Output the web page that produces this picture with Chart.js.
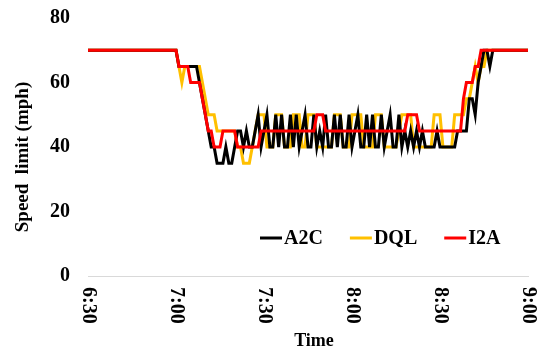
<!DOCTYPE html>
<html>
<head>
<meta charset="utf-8">
<script src="https://cdn.jsdelivr.net/npm/chart.js@4.4.1/dist/chart.umd.min.js"></script>
<style>
  html, body { margin: 0; padding: 0; background: #fff; }
  #wrap { width: 542px; height: 352px; }
</style>
</head>
<body>
<div id="wrap"><canvas id="speedChart" width="542" height="352"></canvas></div>
<script>
// one sample per minute, starting 6:30 (390 min after midnight)
const startMinute = 390;
const tickValues = [390, 420, 450, 480, 510, 540];
const tickLabels = ["6:30", "7:00", "7:30", "8:00", "8:30", "9:00"];
const yTicks = [0, 20, 40, 60, 80];

const a2c = [
  70, 70, 70, 70, 70, 70, 70, 70, 70, 70,
  70, 70, 70, 70, 70, 70, 70, 70, 70, 70,
  70, 70, 70, 70, 70, 70, 70, 70, 70, 70,
  70, 65, 65, 65, 65, 65, 65, 65, 60, 55,
  50, 45, 40, 40, 35, 35, 35, 40, 35, 35,
  40, 45, 45, 40, 45, 40, 40, 45, 50, 40,
  45, 50, 40, 40, 50, 40, 50, 40, 40, 50,
  40, 50, 40, 45, 50, 40, 40, 50, 40, 45,
  40, 50, 40, 40, 50, 40, 50, 40, 40, 50,
  40, 45, 50, 40, 40, 50, 40, 50, 40, 40,
  50, 40, 45, 50, 40, 40, 50, 40, 45, 40,
  45, 40, 45, 40, 45, 40, 40, 40, 40, 45,
  40, 40, 40, 40, 40, 40, 45, 45, 45, 45,
  55, 55, 50, 60, 65, 70, 70, 65, 70, 70,
  70, 70, 70, 70, 70, 70, 70, 70, 70, 70,
  70
];
const dql = [
  70, 70, 70, 70, 70, 70, 70, 70, 70, 70,
  70, 70, 70, 70, 70, 70, 70, 70, 70, 70,
  70, 70, 70, 70, 70, 70, 70, 70, 70, 70,
  70, 65, 60, 65, 65, 65, 65, 65, 65, 60,
  55, 50, 50, 50, 45, 45, 45, 45, 45, 45,
  45, 40, 40, 35, 35, 35, 40, 45, 50, 50,
  50, 40, 40, 40, 50, 50, 50, 40, 40, 40,
  50, 50, 50, 40, 40, 50, 50, 50, 40, 40,
  40, 40, 40, 40, 50, 50, 50, 40, 40, 40,
  50, 50, 50, 50, 40, 40, 40, 40, 50, 50,
  50, 40, 40, 40, 40, 40, 45, 50, 50, 50,
  50, 40, 40, 40, 40, 40, 40, 40, 50, 50,
  50, 40, 40, 40, 40, 50, 50, 50, 50, 55,
  55, 60, 65, 60, 65, 65, 70, 70, 70, 70,
  70, 70, 70, 70, 70, 70, 70, 70, 70, 70,
  70
];
const i2a = [
  70, 70, 70, 70, 70, 70, 70, 70, 70, 70,
  70, 70, 70, 70, 70, 70, 70, 70, 70, 70,
  70, 70, 70, 70, 70, 70, 70, 70, 70, 70,
  70, 65, 65, 65, 65, 60, 60, 60, 60, 55,
  50, 45, 45, 40, 40, 40, 45, 45, 45, 45,
  45, 40, 40, 40, 40, 40, 40, 40, 40, 45,
  45, 45, 45, 45, 45, 45, 45, 45, 45, 45,
  45, 45, 45, 45, 45, 45, 45, 45, 50, 50,
  50, 45, 45, 45, 45, 45, 45, 45, 45, 45,
  45, 45, 45, 45, 45, 45, 45, 45, 45, 45,
  45, 45, 45, 45, 45, 45, 45, 45, 45, 50,
  50, 50, 50, 45, 45, 45, 45, 45, 45, 45,
  45, 45, 45, 45, 45, 45, 45, 45, 55, 60,
  60, 60, 65, 65, 70, 70, 70, 70, 70, 70,
  70, 70, 70, 70, 70, 70, 70, 70, 70, 70,
  70
];

const serif = '"Liberation Serif", "Times New Roman", serif';

function toPoints(values) {
  return values.map((v, i) => ({ x: startMinute + i, y: v }));
}

// tick labels turned clockwise, axis titles and the in-plot legend
const overlay = {
  id: 'overlay',
  afterDraw(chart) {
    const { ctx } = chart;
    const x = chart.scales.x;
    ctx.save();
    ctx.fillStyle = '#000';
    ctx.textBaseline = 'middle';

    ctx.font = 'bold 20px ' + serif;
    ctx.textAlign = 'left';
    tickValues.forEach((v, i) => {
      ctx.save();
      ctx.translate(x.getPixelForValue(v), x.top + 11);
      ctx.rotate(Math.PI / 2);
      ctx.fillText(tickLabels[i], 0, 0);
      ctx.restore();
    });

    ctx.textAlign = 'center';
    ctx.font = 'bold 18px ' + serif;
    ctx.fillText('Time', 314, 341);

    ctx.save();
    ctx.font = 'bold 19px ' + serif;
    ctx.translate(23, 157);
    ctx.rotate(-Math.PI / 2);
    ctx.fillText('Speed  limit (mph)', 0, 0);
    ctx.restore();

    // legend
    ctx.font = 'bold 20px ' + serif;
    ctx.textAlign = 'left';
    let lx = 260;
    const ly = 238;
    chart.data.datasets.forEach(ds => {
      ctx.strokeStyle = ds.borderColor;
      ctx.lineWidth = 3;
      ctx.beginPath();
      ctx.moveTo(lx, ly);
      ctx.lineTo(lx + 22, ly);
      ctx.stroke();
      ctx.fillText(ds.label, lx + 24, ly + 1);
      lx += 24 + ctx.measureText(ds.label).width + 27;
    });
    ctx.restore();
  }
};

new Chart(document.getElementById('speedChart'), {
  type: 'line',
  data: {
    datasets: [
      { label: 'A2C', data: toPoints(a2c), borderColor: '#000000', order: 1 },
      { label: 'DQL', data: toPoints(dql), borderColor: '#FFC000', order: 2 },
      { label: 'I2A', data: toPoints(i2a), borderColor: '#FF0000', order: 0 }
    ]
  },
  options: {
    responsive: false,
    animation: false,
    layout: { padding: { top: 18, right: 14, bottom: 0, left: 0 } },
    elements: {
      line: { borderWidth: 3, tension: 0, fill: false },
      point: { radius: 0, hoverRadius: 0 }
    },
    plugins: { legend: { display: false }, tooltip: { enabled: false } },
    scales: {
      x: {
        type: 'linear',
        min: 390,
        max: 540,
        grid: { display: false, drawTicks: false },
        border: { display: true, color: '#d9d9d9', width: 1 },
        ticks: { display: false },
        afterFit(scale) {
          scale.height = 76;
          scale.paddingLeft = 0;
          scale.paddingRight = 0;
        }
      },
      y: {
        min: 0,
        max: 80,
        grid: { display: false, drawTicks: false },
        border: { display: false },
        afterBuildTicks(scale) { scale.ticks = yTicks.map(v => ({ value: v })); },
        ticks: {
          padding: 18,
          color: '#000',
          font: { family: serif, size: 20, weight: 'bold' }
        },
        afterFit(scale) {
          scale.width = 88;
          scale.paddingTop = 0;
          scale.paddingBottom = 0;
        }
      }
    }
  },
  plugins: [overlay]
});
</script>
</body>
</html>
